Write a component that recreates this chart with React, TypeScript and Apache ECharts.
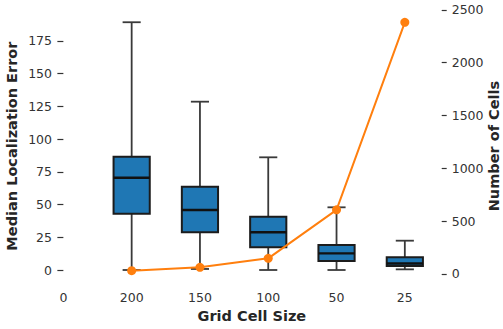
import React, { useEffect, useRef } from "react";
import * as echarts from "echarts";

const categories = ["0", "200", "150", "100", "50", "25"];
const positions = [1, 2, 3, 4, 5];
// [min, Q1, median, Q3, max]
const boxStats = [
  [0, 43, 70.5, 86.6, 189.3],
  [0.8, 28.8, 45.9, 63.7, 128.6],
  [0, 17.3, 28.8, 40.7, 86.1],
  [0, 6.9, 12.7, 19.1, 47.9],
  [0.5, 3, 5, 9.7, 22.4],
];
const cellCounts = [31, 63, 148, 607, 2381];
const leftTicks = [0, 25, 50, 75, 100, 125, 150, 175];
const rightTicks = [0, 500, 1000, 1500, 2000, 2500];

const FONT = "DejaVu Sans";

export default function App() {
  const ref = useRef<HTMLDivElement>(null);
  useEffect(() => {
    if (!ref.current) return;
    const chart = echarts.init(ref.current, undefined, { renderer: "svg" });
    const boxData = positions.map((p, i) => [p, ...boxStats[i]]);
    const lineData = positions.map((p, i) => [p, cellCounts[i]]);
    chart.setOption({
      animation: false,
      textStyle: { fontFamily: FONT },
      grid: { left: 62, right: 61.3, top: 9.8, bottom: 46.6, outerBoundsMode: "none", containLabel: false },
      xAxis: {
        type: "value",
        min: -0.02,
        max: 5.54,
        name: "Grid Cell Size",
        nameLocation: "middle",
        nameGap: 26,
        nameMoveOverlap: false,
        nameTextStyle: { fontFamily: FONT, fontWeight: "bold", fontSize: 14.5, color: "#262626" },
        axisLine: { show: false },
        axisTick: { show: false },
        splitLine: { show: false },
        axisLabel: {
          customValues: [0, 1, 2, 3, 4, 5],
          formatter: (v: number) => categories[Math.round(v)] ?? "",
          fontFamily: FONT,
          fontSize: 12.5,
          color: "#333",
          margin: 9,
        },
      },
      yAxis: [
        {
          type: "value",
          min: -9.47,
          max: 198.8,
          position: "left",
          name: "Median Localization Error",
          nameLocation: "middle",
          nameGap: 43,
          nameMoveOverlap: false,
          nameTextStyle: { fontFamily: FONT, fontWeight: "bold", fontSize: 14.5, color: "#262626" },
          axisLine: { show: false },
          splitLine: { show: false },
          axisTick: { show: true, customValues: leftTicks, length: 6, lineStyle: { color: "#333", width: 1.2 } },
          axisLabel: {
            customValues: leftTicks,
            formatter: (v: number) => String(v),
            fontFamily: FONT,
            fontSize: 12.5,
            color: "#333",
            margin: 10,
          },
        },
        {
          type: "value",
          min: -80,
          max: 2500,
          position: "right",
          name: "Number of Cells",
          nameLocation: "middle",
          nameGap: 45,
          nameMoveOverlap: false,
          nameTextStyle: { fontFamily: FONT, fontWeight: "bold", fontSize: 14.5, color: "#262626" },
          axisLine: { show: false },
          splitLine: { show: false },
          axisTick: { show: true, customValues: rightTicks, length: 5, lineStyle: { color: "#333", width: 1.2 } },
          axisLabel: {
            customValues: rightTicks,
            formatter: (v: number) => String(v),
            fontFamily: FONT,
            fontSize: 12.5,
            color: "#333",
            margin: 10,
          },
        },
      ],
      series: [
        {
          type: "custom",
          xAxisIndex: 0,
          yAxisIndex: 0,
          data: boxData,
          encode: { x: 0, y: [1, 2, 3, 4, 5] },
          z: 2,
          renderItem: (params: any, api: any) => {
            const x = api.value(0);
            const step = api.size([1, 0])[0];
            const bw = step * 0.53;
            const cw = bw * 0.5;
            const pMin = api.coord([x, api.value(1)]);
            const pQ1 = api.coord([x, api.value(2)]);
            const pMed = api.coord([x, api.value(3)]);
            const pQ3 = api.coord([x, api.value(4)]);
            const pMax = api.coord([x, api.value(5)]);
            const cx = pMin[0];
            const wStyle = { stroke: "#3a3a3a", lineWidth: 1.8 };
            return {
              type: "group",
              children: [
                { type: "line", shape: { x1: cx, y1: pMin[1], x2: cx, y2: pQ1[1] }, style: wStyle },
                { type: "line", shape: { x1: cx, y1: pQ3[1], x2: cx, y2: pMax[1] }, style: wStyle },
                { type: "line", shape: { x1: cx - cw / 2, y1: pMin[1], x2: cx + cw / 2, y2: pMin[1] }, style: wStyle },
                { type: "line", shape: { x1: cx - cw / 2, y1: pMax[1], x2: cx + cw / 2, y2: pMax[1] }, style: wStyle },
                {
                  type: "rect",
                  shape: { x: cx - bw / 2, y: pQ3[1], width: bw, height: pQ1[1] - pQ3[1] },
                  style: { fill: "#1f77b4", stroke: "#1c1c1c", lineWidth: 2 },
                },
                {
                  type: "line",
                  shape: { x1: cx - bw / 2, y1: pMed[1], x2: cx + bw / 2, y2: pMed[1] },
                  style: { stroke: "#111", lineWidth: 2.4 },
                },
              ],
            };
          },
        },
        {
          type: "line",
          xAxisIndex: 0,
          yAxisIndex: 1,
          data: lineData,
          z: 5,
          symbol: "circle",
          symbolSize: 9,
          itemStyle: { color: "#ff7f0e" },
          lineStyle: { color: "#ff7f0e", width: 2 },
        },
      ],
    });
    return () => chart.dispose();
  }, []);
  return (
    <div
      ref={ref}
      style={{ position: "fixed", left: 0, top: 0, width: 503, height: 329, background: "#fff" }}
    />
  );
}
